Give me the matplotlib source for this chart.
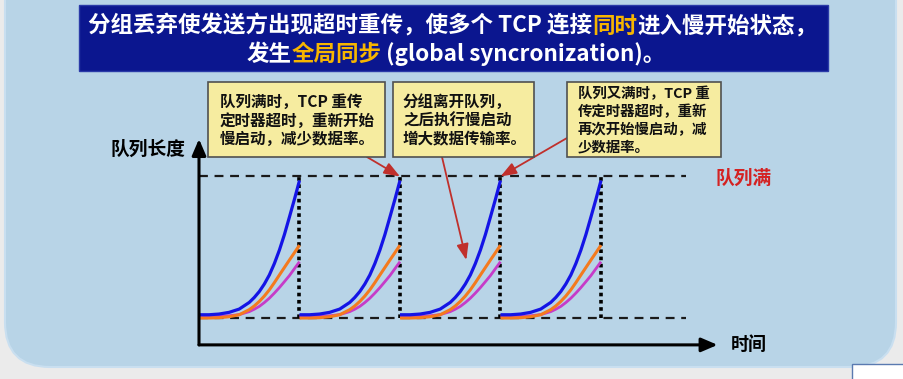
import matplotlib.pyplot as plt
from matplotlib.patches import FancyBboxPatch, Rectangle
from matplotlib.transforms import IdentityTransform

W, H = 904, 379
plt.rcParams['font.family'] = ['Noto Sans CJK SC', 'DejaVu Sans']

# ---- data ----
# one slow-start cycle: time fraction vs queue length (1.0 = queue full)
cycle_t = [0, 0.1, 0.2, 0.3, 0.4, 0.5, 0.55, 0.6, 0.65, 0.7, 0.75, 0.8, 0.85, 0.9, 0.95, 1.0]
blue_q = [0.023, 0.023, 0.028, 0.040, 0.063, 0.110, 0.145, 0.187, 0.240, 0.304, 0.385,
          0.480, 0.590, 0.714, 0.840, 0.972]
orange_q = [0.0, 0.0, 0.002, 0.009, 0.023, 0.059, 0.085, 0.117, 0.155, 0.199, 0.250,
            0.304, 0.357, 0.410, 0.462, 0.515]
magenta_q = [0.012, 0.012, 0.013, 0.016, 0.024, 0.045, 0.062, 0.082, 0.109, 0.140, 0.176,
             0.215, 0.257, 0.300, 0.349, 0.398]
cycle_starts = [0, 1, 2, 3]
timeouts = [1, 2, 3, 4]
full_level = 1.0
empty_level = 0.0

gold = '#f7b500'
title_line1 = [("分组丢弃使发送方出现超时重传，使多个 TCP 连接", 'white'),
               ("同时", gold), ("进入慢开始状态，", 'white')]
title_line2 = [("发生", 'white'), ("全局同步", gold),
               (" (global syncronization)。", 'white')]
notes = ["队列满时，TCP 重传\n定时器超时，重新开始\n慢启动，减少数据率。",
         "分组离开队列，\n之后执行慢启动\n增大数据传输率。",
         "队列又满时，TCP 重\n传定时器超时，重新\n再次开始慢启动，减\n少数据率。"]
ylabel = "队列长度"
xlabel = "时间"
full_label = "队列满"


def fx(px):
    return px / W


def fy(py):
    return 1 - py / H


fig = plt.figure(figsize=(W / 100, H / 100), dpi=100)
fig.patch.set_facecolor('#ebebeb')

# slide background and title banner (pixel coordinates)
fig.patches.append(FancyBboxPatch((5, 12), 891, 420, boxstyle="round,pad=0,rounding_size=45",
                                  transform=IdentityTransform(), facecolor='#b8d4e7',
                                  edgecolor='#c9dff0', lw=1.5, zorder=-3))
fig.patches.append(Rectangle((79, H - 71), 749, 66, transform=IdentityTransform(),
                             facecolor='#0b168f', edgecolor='#2a3aa8', lw=1, zorder=-2))
fig.patches.append(Rectangle((852, -2), 60, 17, transform=IdentityTransform(),
                             facecolor='white', edgecolor='#5a7ab0', lw=1, zorder=-2))

renderer = fig.canvas.get_renderer()


def draw_segments(segments, cx, base_y, size):
    texts = [fig.text(0, fy(base_y), s, color=c, fontsize=size, fontweight='bold',
                      va='baseline', ha='left') for s, c in segments]
    widths = [t.get_window_extent(renderer).width for t in texts]
    x = cx - sum(widths) / 2
    for t, w in zip(texts, widths):
        t.set_x(fx(x))
        x += w


draw_segments(title_line1, 453, 33, 16.2)
draw_segments(title_line2, 456, 61, 16.2)

# ---- chart axes: x in cycles, y in queue-length units ----
px_per_x, px_per_y = 100.5, 141.5
x0_px, y0_px = 199, 318
xlim, ylim = (-0.5, 5.5), (-0.4, 1.4)
left = x0_px + xlim[0] * px_per_x
right = x0_px + xlim[1] * px_per_x
top = y0_px - ylim[1] * px_per_y
bottom = y0_px - ylim[0] * px_per_y
ax = fig.add_axes([fx(left), fy(bottom), fx(right - left), (bottom - top) / H])
ax.set_xlim(*xlim)
ax.set_ylim(*ylim)
ax.axis('off')
ax.patch.set_alpha(0)

axis_y = -0.19
ax.annotate('', xy=(0, 1.265), xytext=(0, axis_y),
            arrowprops=dict(arrowstyle='-|>,head_length=0.7,head_width=0.3', color='black',
                            lw=2.2, shrinkA=0, shrinkB=0, mutation_scale=14))
ax.annotate('', xy=(5.16, axis_y), xytext=(0, axis_y),
            arrowprops=dict(arrowstyle='-|>,head_length=0.7,head_width=0.3', color='black',
                            lw=2.2, shrinkA=0, shrinkB=0, mutation_scale=14))

ax.plot([0, 4.85], [full_level, full_level], color='#1a1a1a', lw=1.6, ls=(0, (4, 3)))
ax.plot([0, 4.85], [empty_level, empty_level], color='#1a1a1a', lw=1.6, ls=(0, (4, 3)))
for t in timeouts:
    ax.plot([t, t], [empty_level, full_level], color='black', lw=2.6, ls=(0, (1, 1)))

for s in cycle_starts:
    ts = [s + t for t in cycle_t]
    ax.plot(ts, magenta_q, color='#c63cc8', lw=2.0, solid_capstyle='butt')
    ax.plot(ts, orange_q, color='#f47a1e', lw=2.2, solid_capstyle='butt')
    ax.plot(ts, blue_q, color='#1414e6', lw=2.3, solid_capstyle='butt')

fig.text(fx(185), fy(149), ylabel, fontsize=13.5, fontweight='bold', ha='right', va='center')
fig.text(fx(731), fy(344), xlabel, fontsize=13, fontweight='bold', ha='left', va='center')
fig.text(fx(716), fy(178), full_label, fontsize=13.5, fontweight='bold', color='#d42222',
         ha='left', va='center')

# ---- callout boxes ----
boxes = [(208, 82, 385, 157), (393, 82, 534, 157), (567, 82, 721, 157)]
text_left = [220, 403, 578]
line_y = [[102, 121, 139], [102, 121, 139], [94, 112, 130, 147]]
sizes = [11.2, 11.2, 10.4]
for (bx0, by0, bx1, by1), note, tx, ys, fs in zip(boxes, notes, text_left, line_y, sizes):
    fig.patches.append(Rectangle((bx0, H - by1), bx1 - bx0, by1 - by0, transform=IdentityTransform(),
                                 facecolor='#f6eca0', edgecolor='#505050', lw=1.2, zorder=2))
    for line, y in zip(note.split('\n'), ys):
        fig.text(fx(tx), fy(y), line, fontsize=fs, fontweight='bold', color='#111111',
                 ha='left', va='center', zorder=3)

# ---- red pointer arrows ----
arrow_tails = [(367, 157), (442, 157), (567, 138)]
arrow_tips = [(2, full_level), (2.66, 0.41), (3, full_level)]
for (tx, ty), tip in zip(arrow_tails, arrow_tips):
    ax.annotate('', xy=tip, xycoords='data', xytext=(fx(tx), fy(ty)), textcoords='figure fraction',
                arrowprops=dict(arrowstyle='-|>,head_length=0.8,head_width=0.3', color='#c0302c',
                                lw=1.3, shrinkA=0, shrinkB=0, mutation_scale=12))

fig.savefig('out.png', dpi=100, facecolor=fig.get_facecolor())
